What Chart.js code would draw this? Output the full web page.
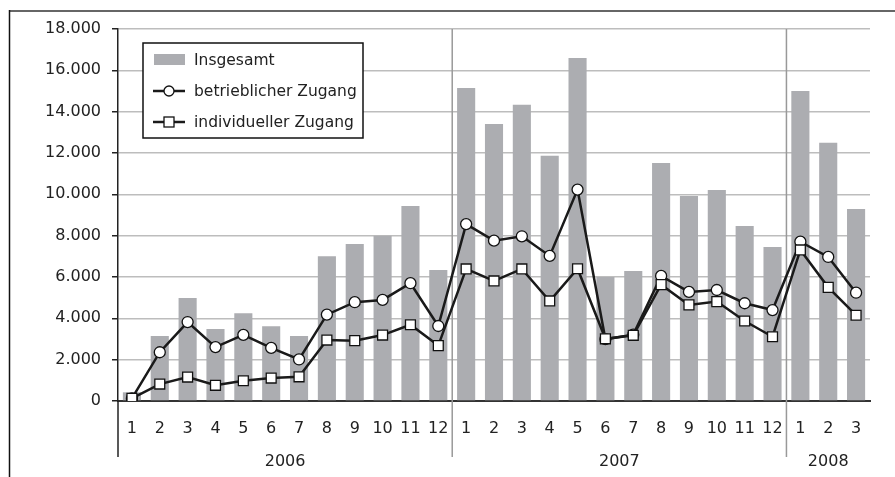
<!DOCTYPE html>
<html>
<head>
<meta charset="utf-8">
<script src="https://cdn.jsdelivr.net/npm/chart.js@4"></script>
<style>
  html, body { margin: 0; padding: 0; background: #fff; }
  #wrap { width: 895px; height: 477px; position: relative; }
</style>
</head>
<body>
<div id="wrap"><canvas id="chart" width="895" height="477"></canvas></div>
<script>
// ---- data ----
const months = ['1','2','3','4','5','6','7','8','9','10','11','12',
                '1','2','3','4','5','6','7','8','9','10','11','12',
                '1','2','3'];
const yearLabels = ['2006', '2007', '2008'];
const yearLengths = [12, 12, 3];

const insgesamt = [420, 3150, 4980, 3480, 4250, 3620, 3150, 7000, 7600, 8000, 9430, 6340,
                   15150, 13400, 14330, 11870, 16600, 6000, 6290, 11520, 9920, 10210, 8470, 7450,
                   15000, 12490, 9290];
const betrieblich = [130, 2360, 3820, 2610, 3200, 2570, 2010, 4180, 4780, 4890, 5700, 3630,
                     8560, 7760, 7970, 7020, 10230, 2990, 3210, 6050, 5280, 5370, 4730, 4400,
                     7710, 6970, 5240];
const individuell = [130, 820, 1160, 760, 980, 1110, 1170, 2950, 2920, 3190, 3690, 2680,
                     6390, 5810, 6390, 4840, 6400, 3010, 3180, 5630, 4650, 4810, 3870, 3110,
                     7310, 5500, 4150];

const FONT = 'DejaVu Sans, Liberation Sans, sans-serif';
const de = v => v.toLocaleString('de-DE');

// frame, year separators, year labels
const decor = {
  id: 'decor',
  beforeDraw(chart) {
    const c = chart.ctx;
    c.save();
    c.strokeStyle = '#666';
    c.lineWidth = 2;
    c.beginPath(); c.moveTo(9, 11); c.lineTo(895, 11); c.stroke();
    c.strokeStyle = '#111';
    c.lineWidth = 1.5;
    c.beginPath(); c.moveTo(9.5, 10); c.lineTo(9.5, 477); c.stroke();
    c.restore();
  },
  beforeDatasetsDraw(chart) {
    const c = chart.ctx, x = chart.scales.x, a = chart.chartArea;
    const bottom = 457;
    c.save();
    c.strokeStyle = '#999';
    c.lineWidth = 1.5;
    let start = 0;
    for (let i = 0; i < yearLengths.length - 1; i++) {
      start += yearLengths[i];
      const px = (x.getPixelForValue(start - 1) + x.getPixelForValue(start)) / 2;
      c.beginPath(); c.moveTo(px, a.top); c.lineTo(px, bottom); c.stroke();
    }
    c.strokeStyle = '#222';
    c.beginPath(); c.moveTo(a.left, a.bottom); c.lineTo(a.left, bottom); c.stroke();
    c.restore();
  },
  afterDraw(chart) {
    const c = chart.ctx, x = chart.scales.x, a = chart.chartArea;
    c.save();
    c.fillStyle = '#222';
    c.font = '16px ' + FONT;
    c.textAlign = 'center';
    c.textBaseline = 'middle';
    let start = 0;
    yearLabels.forEach((lab, i) => {
      const end = start + yearLengths[i] - 1;
      const px = (x.getPixelForValue(start) + x.getPixelForValue(end)) / 2;
      c.fillText(lab, px, 462);
      start = end + 1;
    });

    // legend box
    const lx = a.left + 25, ly = a.top + 14;
    c.strokeStyle = '#111';
    c.lineWidth = 1.5;
    c.fillStyle = '#fff';
    c.fillRect(lx, ly, 220, 95);
    c.strokeRect(lx, ly, 220, 95);
    c.textAlign = 'left';
    c.font = '15.5px ' + FONT;
    const ds = chart.data.datasets;
    const rows = [ds[2], ds[0], ds[1]];
    rows.forEach((d, i) => {
      const cy = ly + 17 + i * 31;
      if (d.type === 'bar') {
        c.fillStyle = d.backgroundColor;
        c.fillRect(lx + 11, cy - 6, 31, 11);
      } else {
        c.strokeStyle = d.borderColor;
        c.lineWidth = 2.5;
        c.beginPath(); c.moveTo(lx + 10, cy); c.lineTo(lx + 42, cy); c.stroke();
        c.fillStyle = '#fff';
        c.strokeStyle = '#111';
        c.lineWidth = 1.3;
        if (d.pointStyle === 'rect') {
          c.fillRect(lx + 21, cy - 5, 10, 10);
          c.strokeRect(lx + 21, cy - 5, 10, 10);
        } else {
          c.beginPath(); c.arc(lx + 26, cy, 5, 0, Math.PI * 2); c.fill(); c.stroke();
        }
      }
      c.fillStyle = '#222';
      c.fillText(d.label, lx + 51, cy + 1);
    });
    c.restore();
  }
};

new Chart(document.getElementById('chart'), {
  data: {
    labels: months,
    datasets: [
      {
        type: 'line', label: 'betrieblicher Zugang', data: betrieblich, order: 2,
        borderColor: '#1a1a1a', borderWidth: 2.5, pointStyle: 'circle',
        pointRadius: 5.5, pointBackgroundColor: '#fff', pointBorderColor: '#111',
        pointBorderWidth: 1.3, tension: 0
      },
      {
        type: 'line', label: 'individueller Zugang', data: individuell, order: 1,
        borderColor: '#1a1a1a', borderWidth: 2.5, pointStyle: 'rect',
        pointRadius: 7, pointBackgroundColor: '#fff', pointBorderColor: '#111',
        pointBorderWidth: 1.3, tension: 0
      },
      {
        type: 'bar', label: 'Insgesamt', data: insgesamt, order: 3,
        backgroundColor: '#acadb1', categoryPercentage: 1, barPercentage: 0.65
      }
    ]
  },
  options: {
    responsive: false,
    animation: false,
    events: [],
    layout: { padding: { top: 29, right: 25, left: 0, bottom: 0 } },
    plugins: { legend: { display: false }, tooltip: { enabled: false } },
    scales: {
      x: {
        grid: { display: false, drawTicks: false },
        border: { display: true, color: '#333', width: 2 },
        ticks: { color: '#222', font: { family: FONT, size: 16 }, padding: 18, maxRotation: 0, autoSkip: false },
        afterFit(s) { s.height = 76; }
      },
      y: {
        min: 0, max: 18000,
        ticks: { stepSize: 2000, color: '#222', font: { family: FONT, size: 16 }, padding: 11,
                 callback: v => de(v) },
        grid: {
          color: ctx => ctx.tick && ctx.tick.value === 0 ? '#333' : '#bdbdbd',
          lineWidth: 1.5, tickLength: 6, tickColor: '#222'
        },
        border: { display: true, color: '#222', width: 1.5 },
        afterFit(s) { s.width = 118; }
      }
    }
  },
  plugins: [decor]
});
</script>
</body>
</html>
